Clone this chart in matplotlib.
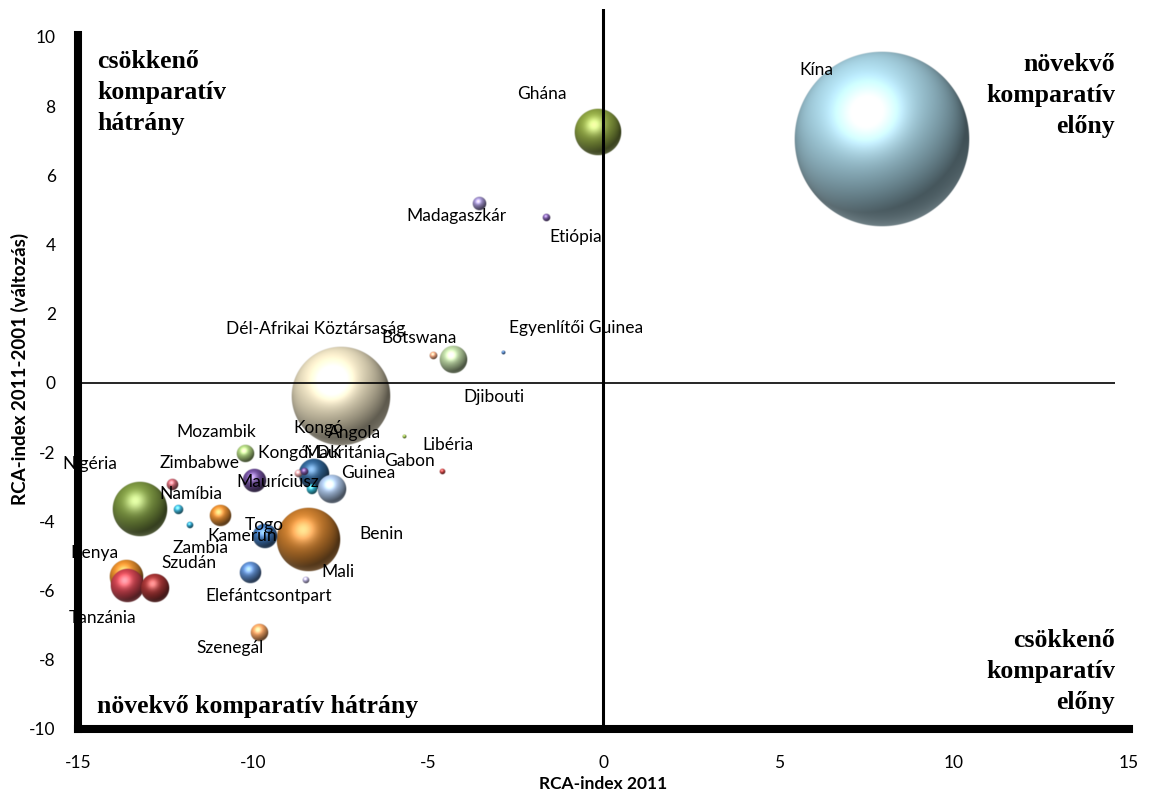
import numpy as np
import matplotlib.pyplot as plt
from matplotlib.colors import to_rgb

plt.rcParams['axes.unicode_minus'] = False

# bubble data: RCA-index 2011 (x), change 2011-2001 (y), relative bubble size, colour
rca_2011 = [7.94, -0.16, -3.55, -1.65, -2.86, -4.29, -4.86, -7.52, -5.69, -4.60,
            -10.24, -9.96, -12.31, -13.24, -12.14, -11.81, -10.95, -9.66, -8.44, -10.09,
            -8.51, -9.82, -13.63, -12.80, -13.60, -8.27, -8.32, -8.71, -8.54, -7.75]
rca_change = [7.05, 7.24, 5.20, 4.77, 0.87, 0.68, 0.80, -0.40, -1.55, -2.57,
              -2.06, -2.83, -2.92, -3.67, -3.66, -4.13, -3.85, -4.42, -4.54, -5.48,
              -5.71, -7.23, -5.60, -5.93, -5.88, -2.63, -3.06, -2.64, -2.57, -3.07]
bubble_size = [100, 7.5, 0.73, 0.21, 0.08, 2.6, 0.26, 32, 0.08, 0.12,
               1.06, 1.9, 0.55, 9.9, 0.33, 0.16, 1.6, 2.2, 13.4, 1.6,
               0.16, 1.06, 3.8, 2.9, 3.8, 3.3, 0.47, 0.21, 0.21, 2.9]
bubble_color = ['#a6d2e2', '#8aa040', '#9486be', '#7556a0', '#3f6fb0', '#b6d09e', '#e8a07a',
                '#efe4c4', '#8aae3e', '#c03a3a', '#a6c878', '#6a4a94', '#c4606c', '#7a9440',
                '#3aaed0', '#2a9ac0', '#e08a30', '#3a70b0', '#c57a2c', '#5a88c8', '#b0a8d2',
                '#f0a060', '#e08a2a', '#a03232', '#c8404c', '#2e6090', '#30b0c8', '#e0a0a4',
                '#704c98', '#a8c2e4']

# data labels (text and where they sit)
label_text = ['Kína', 'Ghána', 'Madagaszkár', 'Etiópia', 'Egyenlítői Guinea',
              'Dél-Afrikai Köztársaság', 'Botswana', 'Djibouti', 'Mozambik', 'Kongó',
              'Angola', 'Libéria', 'Kongói DK', 'Mauritánia', 'Gabon', 'Nigéria',
              'Zimbabwe', 'Mauríciusz', 'Guinea', 'Namíbia', 'Togo', 'Kamerun', 'Benin',
              'Zambia', 'Kenya', 'Szudán', 'Mali', 'Elefántcsontpart', 'Tanzánia', 'Szenegál']
label_x = [6.07, -1.75, -4.19, -0.78, -0.78, -8.23, -5.27, -3.14, -11.05, -8.15,
           -7.12, -4.45, -8.66, -7.38, -5.53, -14.66, -11.53, -9.31, -6.70, -11.79,
           -9.68, -10.31, -6.35, -11.50, -14.52, -11.84, -7.58, -9.57, -14.29, -10.65]
label_y = [9.06, 8.34, 4.82, 4.21, 1.59, 1.56, 1.30, -0.40, -1.41, -1.30,
           -1.44, -1.79, -2.02, -2.02, -2.25, -2.34, -2.31, -2.86, -2.60, -3.20,
           -4.10, -4.42, -4.36, -4.76, -4.91, -5.19, -5.45, -6.15, -6.78, -7.65]

fig = plt.figure(figsize=(11.5, 7.96), dpi=100)
ax = fig.add_axes([0.0678, 0.0842, 0.9139, 0.9041])
ax.set_xlim(-15, 15)
ax.set_ylim(-10, 10.8)

size_scale = 158.8  # points^2 per size unit (scatter-style area)

bb = ax.get_window_extent()
px_x = bb.width / 30.0
px_y = bb.height / 20.8

light = np.array([-0.3, 0.55, 0.78])
light = light / np.linalg.norm(light)
half = (light + np.array([0, 0, 1.0]))
half = half / np.linalg.norm(half)


def ball(x, y, s, color, z):
    # shaded sphere image, round in pixel space
    r_px = np.sqrt(s) / 2 * fig.dpi / 72
    n = max(24, int(4 * r_px))
    u = np.linspace(-1, 1, n)
    U, V = np.meshgrid(u, u)
    rho = np.sqrt(U ** 2 + V ** 2)
    W = np.sqrt(np.clip(1 - rho ** 2, 0, 1))
    diff = np.clip(U * light[0] + V * light[1] + W * light[2], 0, 1)
    spec = np.clip(U * half[0] + V * half[1] + W * half[2], 0, 1) ** 14
    rim = np.clip(-V, 0, 1) * (rho ** 6) * 0.2
    base = np.array(to_rgb(color))
    shade = 0.38 + 0.72 * diff
    rgb = base[None, None, :] * shade[..., None] + (spec * 0.4 + rim)[..., None]
    img = np.zeros((n, n, 4))
    img[..., :3] = np.clip(rgb, 0, 1)
    img[..., 3] = np.clip((1 - rho) * r_px, 0, 1)
    ext = [x - r_px / px_x, x + r_px / px_x, y - r_px / px_y, y + r_px / px_y]
    ax.imshow(img, extent=ext, origin='lower', interpolation='bilinear', zorder=z, aspect='auto')


order = sorted(range(len(bubble_size)), key=lambda i: -bubble_size[i])
for k, i in enumerate(order):
    ball(rca_2011[i], rca_change[i], bubble_size[i] * size_scale, bubble_color[i], 3 + k * 0.01)

ax.set_xlim(-15, 15)
ax.set_ylim(-10, 10.8)

for t, lx, ly in zip(label_text, label_x, label_y):
    ax.text(lx, ly, t, ha='center', va='center', fontsize=12.5, family='Lato', zorder=6)

ax.axvline(0, color='black', lw=2.2, zorder=7)
ax.hlines(0, -15, 14.6, color='black', lw=1.2, zorder=7)

for sp in ['top', 'right']:
    ax.spines[sp].set_visible(False)
for sp in ['left', 'bottom']:
    ax.spines[sp].set_linewidth(5.8)
    ax.spines[sp].set_zorder(20)
ax.spines['left'].set_bounds(-10, 10.05)

ax.set_xticks(range(-15, 16, 5))
ax.set_yticks(range(-10, 11, 2))
ax.tick_params(direction='out', length=3, width=4, labelsize=12.5)
ax.tick_params(axis='x', pad=16)
ax.tick_params(axis='y', pad=13)
for lab in ax.get_xticklabels() + ax.get_yticklabels():
    lab.set_family('Lato')

ax.set_xlabel('RCA-index 2011', fontsize=12.5, fontweight='bold', family='Lato', labelpad=3)
ax.set_ylabel('RCA-index 2011-2001 (változás)', fontsize=13.5, fontweight='bold',
              family='Lato', labelpad=0)

qfont = dict(fontsize=18.5, fontweight='bold', family='Liberation Serif', zorder=6,
             linespacing=1.45)
ax.text(-14.45, 9.62, 'csökkenő\nkomparatív\nhátrány', ha='left', va='top', **qfont)
ax.text(14.6, 9.55, 'növekvő\nkomparatív\nelőny', ha='right', va='top', **qfont)
ax.text(14.6, -7.1, 'csökkenő\nkomparatív\nelőny', ha='right', va='top', **qfont)
ax.text(-14.45, -9.35, 'növekvő komparatív hátrány', ha='left', va='center', **qfont)

fig.savefig('out.png', dpi=100)
